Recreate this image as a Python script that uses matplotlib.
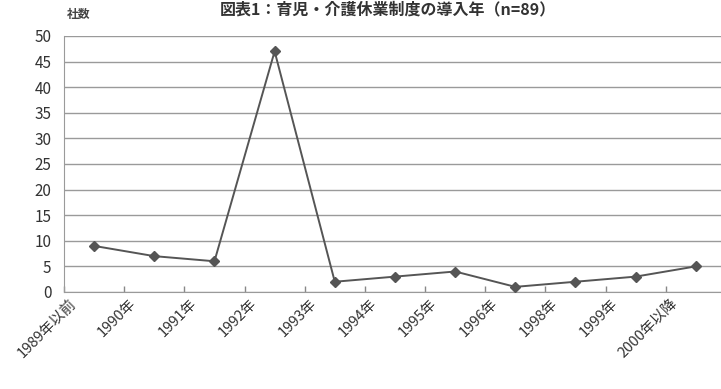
import matplotlib
matplotlib.use("Agg")
import matplotlib.pyplot as plt
import matplotlib.transforms as mtransforms
import numpy as np

plt.rcParams['font.family'] = ['Noto Sans CJK JP', 'DejaVu Sans']

categories = ["1989年以前", "1990年", "1991年", "1992年", "1993年", "1994年",
              "1995年", "1996年", "1998年", "1999年", "2000年以降"]
counts = [9, 7, 6, 47, 2, 3, 4, 1, 2, 3, 5]
y_ticks = [0, 5, 10, 15, 20, 25, 30, 35, 40, 45, 50]
title = "図表1：育児・介護休業制度の導入年（n=89）"
y_label = "社数"

fig = plt.figure(figsize=(7.21, 3.89), dpi=100)
ax = fig.add_axes([0.0888, 0.2494, 0.918, 0.6581])

x = np.arange(len(categories))
ax.plot(x, counts, color="#555555", linewidth=1.4, marker="D",
        markersize=5.5, markerfacecolor="#555555", markeredgecolor="#555555",
        zorder=3)

ax.set_xlim(-0.5, len(categories) - 0.5)
ax.set_ylim(0, 50)
ax.set_yticks(y_ticks)
ax.yaxis.grid(True, color="#9a9a9a", linewidth=1.0)
ax.set_axisbelow(True)

ax.set_xticks(x)
ax.set_xticklabels(categories, rotation=45, ha="right", va="top",
                   fontsize=10.5, color="#333333")
ax.set_xticks(np.arange(len(categories) + 1) - 0.5, minor=True)
ax.tick_params(axis="x", which="major", length=0, pad=3)
ax.tick_params(axis="x", which="minor", direction="in", length=4,
               color="#888888", width=1)
ax.tick_params(axis="y", length=0, labelsize=11, labelcolor="#333333", pad=9)

offset = mtransforms.ScaledTranslation(-11 / 72, 0, fig.dpi_scale_trans)
for lab in ax.get_xticklabels():
    lab.set_transform(lab.get_transform() + offset)

for side in ["top", "right"]:
    ax.spines[side].set_visible(False)
ax.spines["left"].set_color("#9a9a9a")
ax.spines["bottom"].set_color("#9a9a9a")

fig.text(0.538, 0.997, title, ha="center", va="top", fontsize=11.5,
         fontweight="bold", color="#333333")
fig.text(0.1096, 0.962, y_label, ha="center", va="center", fontsize=8.5,
         fontweight="bold", color="#444444")

fig.savefig("out.png", dpi=100)
